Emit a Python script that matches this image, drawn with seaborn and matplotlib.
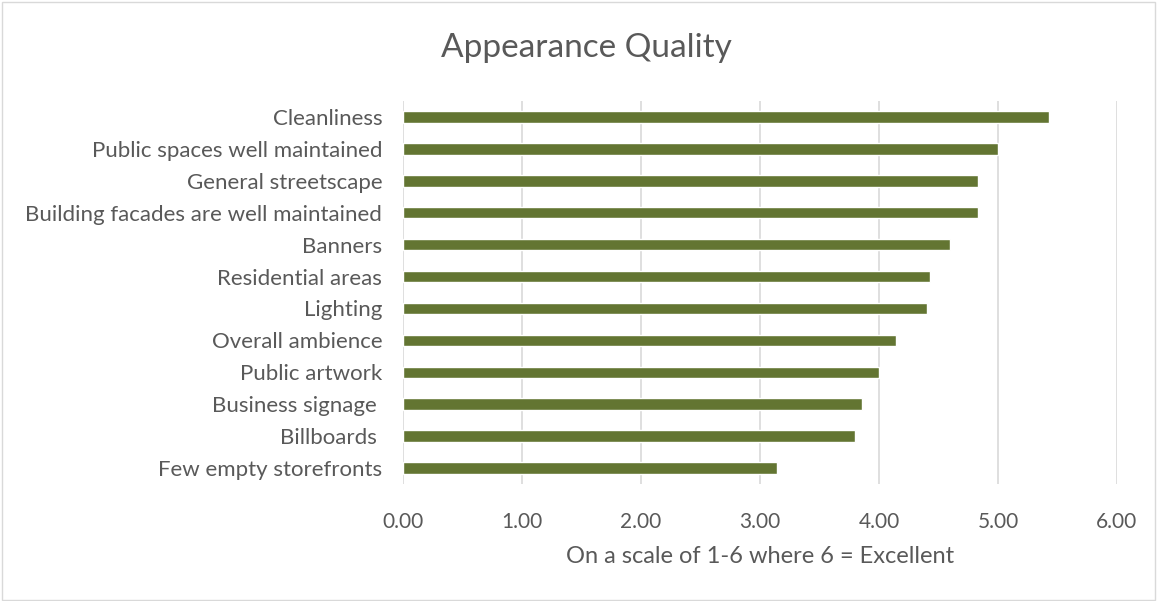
import matplotlib
matplotlib.use("Agg")
import matplotlib.pyplot as plt
import seaborn as sns
import pandas as pd

categories = [
    "Cleanliness",
    "Public spaces well maintained",
    "General streetscape",
    "Building facades are well maintained",
    "Banners",
    "Residential areas",
    "Lighting",
    "Overall ambience",
    "Public artwork",
    "Business signage ",
    "Billboards ",
    "Few empty storefronts",
]
scores = [5.43, 5.00, 4.83, 4.83, 4.60, 4.43, 4.40, 4.14, 4.00, 3.86, 3.80, 3.14]
x_ticks = [0, 1, 2, 3, 4, 5, 6]

title = "Appearance Quality"
x_label = "On a scale of 1-6 where 6 = Excellent"

sns.set_theme(style="white")
plt.rcParams["font.family"] = ["Lato", "DejaVu Sans"]

text_color = "#595959"
bar_color = "#637532"

df = pd.DataFrame({"category": categories, "score": scores})

fig = plt.figure(figsize=(11.57, 6.01), dpi=100)
ax = fig.add_axes([0.3483, 0.1947, 0.6171, 0.6373])

sns.barplot(data=df, x="score", y="category", orient="h", color=bar_color,
            width=0.36, saturation=1, ax=ax, zorder=3)

ax.set_xlim(0, 6)
ax.set_ylim(len(categories) - 0.5, -0.5)
ax.set_xticks(x_ticks)
ax.set_xticklabels([f"{v:.2f}" for v in x_ticks])
ax.grid(axis="x", color="#d9d9d9", linewidth=1.2, zorder=0)
ax.grid(axis="y", visible=False)
for s in ax.spines.values():
    s.set_visible(False)

ax.tick_params(axis="both", length=0, colors=text_color)
ax.tick_params(axis="x", pad=20, labelsize=15)
ax.tick_params(axis="y", pad=15, labelsize=16)
ax.set_ylabel("")
ax.set_xlabel(x_label, fontsize=17, color=text_color, labelpad=10)

fig.text(586 / 1157, 0.92, title, ha="center", va="center",
         fontsize=24, color=text_color)

# thin frame around the whole chart area
fig.patches.append(plt.Rectangle((0.002, 0.002), 0.996, 0.994, transform=fig.transFigure,
                                 fill=False, edgecolor="#d9d9d9", linewidth=1))

fig.savefig("out.png", dpi=100)
